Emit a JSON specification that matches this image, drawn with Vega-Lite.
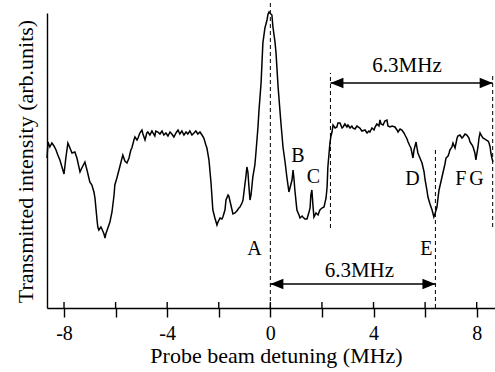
{
  "$schema": "https://vega.github.io/schema/vega-lite/v6.json",
  "width": 448,
  "height": 295,
  "autosize": {"type": "none"},
  "padding": {"left": 47, "top": 13, "right": 0, "bottom": 64},
  "background": "white",
  "config": {"view": {"stroke": null}, "font": "Liberation Serif"},
  "datasets": {
    "spectrum": [
      {"mhz": -8.66, "intensity": 150}, {"mhz": -8.62, "intensity": 166}, {"mhz": -8.55, "intensity": 161}, {"mhz": -8.47, "intensity": 165},
      {"mhz": -8.39, "intensity": 162}, {"mhz": -8.31, "intensity": 158}, {"mhz": -8.24, "intensity": 153}, {"mhz": -8.16, "intensity": 148},
      {"mhz": -8.08, "intensity": 141}, {"mhz": -8.00, "intensity": 134}, {"mhz": -7.93, "intensity": 150}, {"mhz": -7.85, "intensity": 165},
      {"mhz": -7.77, "intensity": 160}, {"mhz": -7.69, "intensity": 155}, {"mhz": -7.58, "intensity": 156}, {"mhz": -7.50, "intensity": 150},
      {"mhz": -7.38, "intensity": 136}, {"mhz": -7.31, "intensity": 140}, {"mhz": -7.19, "intensity": 146}, {"mhz": -7.11, "intensity": 138},
      {"mhz": -7.00, "intensity": 126}, {"mhz": -6.92, "intensity": 123}, {"mhz": -6.84, "intensity": 116}, {"mhz": -6.80, "intensity": 110},
      {"mhz": -6.72, "intensity": 88}, {"mhz": -6.69, "intensity": 81}, {"mhz": -6.65, "intensity": 78}, {"mhz": -6.57, "intensity": 81},
      {"mhz": -6.53, "intensity": 79}, {"mhz": -6.45, "intensity": 74}, {"mhz": -6.41, "intensity": 70}, {"mhz": -6.38, "intensity": 74},
      {"mhz": -6.30, "intensity": 80}, {"mhz": -6.22, "intensity": 86}, {"mhz": -6.14, "intensity": 96}, {"mhz": -6.06, "intensity": 113},
      {"mhz": -6.03, "intensity": 123}, {"mhz": -5.95, "intensity": 130}, {"mhz": -5.87, "intensity": 138}, {"mhz": -5.79, "intensity": 146},
      {"mhz": -5.72, "intensity": 153}, {"mhz": -5.64, "intensity": 147}, {"mhz": -5.56, "intensity": 145}, {"mhz": -5.48, "intensity": 150},
      {"mhz": -5.41, "intensity": 158}, {"mhz": -5.37, "intensity": 160}, {"mhz": -5.29, "intensity": 168}, {"mhz": -5.25, "intensity": 171},
      {"mhz": -5.17, "intensity": 168}, {"mhz": -5.13, "intensity": 170}, {"mhz": -5.06, "intensity": 175}, {"mhz": -4.98, "intensity": 178},
      {"mhz": -4.94, "intensity": 174}, {"mhz": -4.86, "intensity": 168}, {"mhz": -4.79, "intensity": 175}, {"mhz": -4.75, "intensity": 176},
      {"mhz": -4.67, "intensity": 173}, {"mhz": -4.59, "intensity": 177}, {"mhz": -4.55, "intensity": 175}, {"mhz": -4.48, "intensity": 172},
      {"mhz": -4.44, "intensity": 177}, {"mhz": -4.36, "intensity": 176}, {"mhz": -4.28, "intensity": 174}, {"mhz": -4.20, "intensity": 177},
      {"mhz": -4.13, "intensity": 173}, {"mhz": -4.05, "intensity": 175}, {"mhz": -3.97, "intensity": 172}, {"mhz": -3.89, "intensity": 176},
      {"mhz": -3.82, "intensity": 174}, {"mhz": -3.74, "intensity": 171}, {"mhz": -3.66, "intensity": 175}, {"mhz": -3.58, "intensity": 178},
      {"mhz": -3.51, "intensity": 174}, {"mhz": -3.43, "intensity": 177}, {"mhz": -3.35, "intensity": 173}, {"mhz": -3.27, "intensity": 176},
      {"mhz": -3.20, "intensity": 174}, {"mhz": -3.12, "intensity": 177}, {"mhz": -3.04, "intensity": 173}, {"mhz": -2.96, "intensity": 175},
      {"mhz": -2.89, "intensity": 177}, {"mhz": -2.81, "intensity": 174}, {"mhz": -2.73, "intensity": 176}, {"mhz": -2.65, "intensity": 173},
      {"mhz": -2.58, "intensity": 170}, {"mhz": -2.50, "intensity": 163}, {"mhz": -2.46, "intensity": 160}, {"mhz": -2.38, "intensity": 148},
      {"mhz": -2.30, "intensity": 125}, {"mhz": -2.23, "intensity": 98}, {"mhz": -2.15, "intensity": 90}, {"mhz": -2.07, "intensity": 83},
      {"mhz": -2.03, "intensity": 86}, {"mhz": -1.95, "intensity": 90}, {"mhz": -1.88, "intensity": 89}, {"mhz": -1.84, "intensity": 91},
      {"mhz": -1.76, "intensity": 98}, {"mhz": -1.72, "intensity": 108}, {"mhz": -1.64, "intensity": 113}, {"mhz": -1.61, "intensity": 112},
      {"mhz": -1.53, "intensity": 103}, {"mhz": -1.45, "intensity": 94}, {"mhz": -1.37, "intensity": 95}, {"mhz": -1.30, "intensity": 97},
      {"mhz": -1.22, "intensity": 100}, {"mhz": -1.18, "intensity": 101}, {"mhz": -1.10, "intensity": 105}, {"mhz": -1.06, "intensity": 108},
      {"mhz": -0.99, "intensity": 123}, {"mhz": -0.95, "intensity": 131}, {"mhz": -0.91, "intensity": 141}, {"mhz": -0.87, "intensity": 136},
      {"mhz": -0.83, "intensity": 121}, {"mhz": -0.79, "intensity": 108}, {"mhz": -0.75, "intensity": 113}, {"mhz": -0.71, "intensity": 123},
      {"mhz": -0.68, "intensity": 131}, {"mhz": -0.60, "intensity": 143}, {"mhz": -0.56, "intensity": 155}, {"mhz": -0.48, "intensity": 181},
      {"mhz": -0.44, "intensity": 198}, {"mhz": -0.36, "intensity": 225}, {"mhz": -0.29, "intensity": 265}, {"mhz": -0.21, "intensity": 280},
      {"mhz": -0.17, "intensity": 284}, {"mhz": -0.13, "intensity": 288}, {"mhz": -0.09, "intensity": 294}, {"mhz": -0.05, "intensity": 296},
      {"mhz": -0.02, "intensity": 295}, {"mhz": 0.06, "intensity": 293}, {"mhz": 0.10, "intensity": 281}, {"mhz": 0.18, "intensity": 266},
      {"mhz": 0.22, "intensity": 255}, {"mhz": 0.30, "intensity": 221}, {"mhz": 0.41, "intensity": 185}, {"mhz": 0.49, "intensity": 161},
      {"mhz": 0.57, "intensity": 146}, {"mhz": 0.64, "intensity": 131}, {"mhz": 0.72, "intensity": 116}, {"mhz": 0.76, "intensity": 120},
      {"mhz": 0.84, "intensity": 128}, {"mhz": 0.88, "intensity": 138}, {"mhz": 0.92, "intensity": 128}, {"mhz": 0.95, "intensity": 118},
      {"mhz": 1.03, "intensity": 98}, {"mhz": 1.11, "intensity": 93}, {"mhz": 1.15, "intensity": 90}, {"mhz": 1.23, "intensity": 92},
      {"mhz": 1.26, "intensity": 91}, {"mhz": 1.34, "intensity": 89}, {"mhz": 1.42, "intensity": 89}, {"mhz": 1.50, "intensity": 96},
      {"mhz": 1.54, "intensity": 100}, {"mhz": 1.57, "intensity": 113}, {"mhz": 1.61, "intensity": 118}, {"mhz": 1.65, "intensity": 103},
      {"mhz": 1.69, "intensity": 91}, {"mhz": 1.77, "intensity": 95}, {"mhz": 1.85, "intensity": 93}, {"mhz": 1.92, "intensity": 98},
      {"mhz": 2.00, "intensity": 100}, {"mhz": 2.08, "intensity": 101}, {"mhz": 2.16, "intensity": 110}, {"mhz": 2.20, "intensity": 121},
      {"mhz": 2.23, "intensity": 141}, {"mhz": 2.27, "intensity": 153}, {"mhz": 2.31, "intensity": 165}, {"mhz": 2.35, "intensity": 172},
      {"mhz": 2.39, "intensity": 176}, {"mhz": 2.43, "intensity": 183}, {"mhz": 2.51, "intensity": 180}, {"mhz": 2.58, "intensity": 181},
      {"mhz": 2.62, "intensity": 185}, {"mhz": 2.70, "intensity": 185}, {"mhz": 2.78, "intensity": 180}, {"mhz": 2.82, "intensity": 181},
      {"mhz": 2.89, "intensity": 184}, {"mhz": 2.97, "intensity": 181}, {"mhz": 3.01, "intensity": 183}, {"mhz": 3.09, "intensity": 180},
      {"mhz": 3.16, "intensity": 182}, {"mhz": 3.20, "intensity": 180}, {"mhz": 3.28, "intensity": 179}, {"mhz": 3.36, "intensity": 182},
      {"mhz": 3.40, "intensity": 181}, {"mhz": 3.47, "intensity": 180}, {"mhz": 3.55, "intensity": 177}, {"mhz": 3.67, "intensity": 178},
      {"mhz": 3.75, "intensity": 175}, {"mhz": 3.82, "intensity": 177}, {"mhz": 3.86, "intensity": 176}, {"mhz": 3.94, "intensity": 180},
      {"mhz": 4.02, "intensity": 178}, {"mhz": 4.06, "intensity": 181}, {"mhz": 4.13, "intensity": 184}, {"mhz": 4.21, "intensity": 182},
      {"mhz": 4.25, "intensity": 188}, {"mhz": 4.29, "intensity": 184}, {"mhz": 4.37, "intensity": 183}, {"mhz": 4.44, "intensity": 187},
      {"mhz": 4.52, "intensity": 188}, {"mhz": 4.56, "intensity": 182}, {"mhz": 4.64, "intensity": 181}, {"mhz": 4.72, "intensity": 182},
      {"mhz": 4.83, "intensity": 181}, {"mhz": 4.91, "intensity": 178}, {"mhz": 4.95, "intensity": 176}, {"mhz": 5.03, "intensity": 179},
      {"mhz": 5.10, "intensity": 178}, {"mhz": 5.18, "intensity": 175}, {"mhz": 5.22, "intensity": 173}, {"mhz": 5.30, "intensity": 169},
      {"mhz": 5.34, "intensity": 166}, {"mhz": 5.41, "intensity": 162}, {"mhz": 5.45, "intensity": 160}, {"mhz": 5.49, "intensity": 155},
      {"mhz": 5.53, "intensity": 150}, {"mhz": 5.57, "intensity": 158}, {"mhz": 5.65, "intensity": 166}, {"mhz": 5.68, "intensity": 161},
      {"mhz": 5.72, "intensity": 155}, {"mhz": 5.80, "intensity": 150}, {"mhz": 5.88, "intensity": 145}, {"mhz": 5.96, "intensity": 136},
      {"mhz": 6.00, "intensity": 128}, {"mhz": 6.07, "intensity": 118}, {"mhz": 6.11, "intensity": 111}, {"mhz": 6.19, "intensity": 104},
      {"mhz": 6.27, "intensity": 98}, {"mhz": 6.31, "intensity": 94}, {"mhz": 6.34, "intensity": 91}, {"mhz": 6.38, "intensity": 94},
      {"mhz": 6.46, "intensity": 101}, {"mhz": 6.50, "intensity": 110}, {"mhz": 6.54, "intensity": 118}, {"mhz": 6.62, "intensity": 127},
      {"mhz": 6.69, "intensity": 135}, {"mhz": 6.77, "intensity": 144}, {"mhz": 6.81, "intensity": 150}, {"mhz": 6.89, "intensity": 152},
      {"mhz": 6.93, "intensity": 155}, {"mhz": 6.96, "intensity": 158}, {"mhz": 7.04, "intensity": 161}, {"mhz": 7.08, "intensity": 165},
      {"mhz": 7.16, "intensity": 160}, {"mhz": 7.20, "intensity": 165}, {"mhz": 7.24, "intensity": 170}, {"mhz": 7.27, "intensity": 172},
      {"mhz": 7.35, "intensity": 173}, {"mhz": 7.43, "intensity": 170}, {"mhz": 7.47, "intensity": 171}, {"mhz": 7.55, "intensity": 174},
      {"mhz": 7.62, "intensity": 173}, {"mhz": 7.70, "intensity": 170}, {"mhz": 7.74, "intensity": 166}, {"mhz": 7.82, "intensity": 163},
      {"mhz": 7.86, "intensity": 161}, {"mhz": 7.93, "intensity": 155}, {"mhz": 7.97, "intensity": 148}, {"mhz": 8.01, "intensity": 155},
      {"mhz": 8.05, "intensity": 161}, {"mhz": 8.09, "intensity": 170}, {"mhz": 8.13, "intensity": 175}, {"mhz": 8.17, "intensity": 173},
      {"mhz": 8.24, "intensity": 170}, {"mhz": 8.32, "intensity": 169}, {"mhz": 8.36, "intensity": 168}, {"mhz": 8.44, "intensity": 167},
      {"mhz": 8.48, "intensity": 165}, {"mhz": 8.52, "intensity": 161}, {"mhz": 8.55, "intensity": 155}, {"mhz": 8.59, "intensity": 150},
      {"mhz": 8.63, "intensity": 146}
    ],
    "ticks": [
      {"mhz": -8, "lo": 0, "hi": 6}, {"mhz": -6, "lo": 0, "hi": 6}, {"mhz": -4, "lo": 0, "hi": 6},
      {"mhz": -2, "lo": 0, "hi": 6}, {"mhz": 0, "lo": 0, "hi": 6}, {"mhz": 2, "lo": 0, "hi": 6},
      {"mhz": 4, "lo": 0, "hi": 6}, {"mhz": 6, "lo": 0, "hi": 6}, {"mhz": 8, "lo": 0, "hi": 6}
    ],
    "dashes": [
      {"mhz": 0, "lo": 0, "hi": 305},
      {"mhz": 2.33, "lo": 80, "hi": 235},
      {"mhz": 8.62, "lo": 81, "hi": 235},
      {"mhz": 6.4, "lo": 0, "hi": 158}
    ],
    "arrows": [
      {"from": 2.33, "to": 8.62, "level": 225},
      {"from": 0, "to": 6.4, "level": 24}
    ],
    "heads": [
      {"mhz": 2.33, "level": 225, "dir": "L"},
      {"mhz": 8.62, "level": 225, "dir": "R"},
      {"mhz": 0, "level": 24, "dir": "L"},
      {"mhz": 6.4, "level": 24, "dir": "R"}
    ],
    "spans": [
      {"mhz": 5.30, "level": 236, "label": "6.3MHz"},
      {"mhz": 3.45, "level": 31, "label": "6.3MHz"}
    ],
    "letters": [
      {"mhz": -0.62, "level": 53, "label": "A"},
      {"mhz": 1.07, "level": 146, "label": "B"},
      {"mhz": 1.67, "level": 125, "label": "C"},
      {"mhz": 5.51, "level": 123, "label": "D"},
      {"mhz": 6.05, "level": 53, "label": "E"},
      {"mhz": 7.38, "level": 123, "label": "F"},
      {"mhz": 7.99, "level": 123, "label": "G"}
    ]
  },
  "layer": [
    {
      "data": {"name": "spectrum"},
      "mark": {"type": "line", "color": "black", "strokeWidth": 1.5, "clip": false},
      "encoding": {
        "x": {
          "field": "mhz", "type": "quantitative",
          "scale": {"domain": [-8.66, 8.71], "nice": false, "zero": false},
          "axis": {
            "values": [-8, -6, -4, -2, 0, 2, 4, 6, 8],
            "labelExpr": "datum.value % 4 === 0 ? toString(datum.value) : ''",
            "grid": false,
            "tickSize": 9, "tickColor": "black", "tickWidth": 1.4,
            "domainColor": "black", "domainWidth": 1.4,
            "labelFont": "Liberation Serif", "labelFontSize": 20, "labelColor": "black", "labelPadding": 6,
            "title": "Probe beam detuning (MHz)",
            "titleFont": "Liberation Serif", "titleFontSize": 22, "titleFontWeight": "normal", "titleColor": "black",
            "titleBaseline": "alphabetic", "titleY": 54, "titleX": 229
          }
        },
        "y": {
          "field": "intensity", "type": "quantitative",
          "scale": {"domain": [0, 295], "nice": false, "zero": false},
          "axis": {
            "ticks": false, "labels": false, "grid": false,
            "domainColor": "black", "domainWidth": 1.4,
            "title": "Transmitted intensity (arb.units)",
            "titleFont": "Liberation Serif", "titleFontSize": 22, "titleFontWeight": "normal", "titleColor": "black",
            "titleAngle": -90, "titleBaseline": "alphabetic", "titleX": -14.5, "titleY": 148, "titleAlign": "center"
          }
        }
      }
    },
    {
      "data": {"name": "ticks"},
      "mark": {"type": "rule", "color": "black", "strokeWidth": 1.4},
      "encoding": {
        "x": {"field": "mhz", "type": "quantitative"},
        "y": {"field": "lo", "type": "quantitative"},
        "y2": {"field": "hi"}
      }
    },
    {
      "data": {"name": "dashes"},
      "mark": {"type": "rule", "color": "black", "strokeWidth": 1, "strokeDash": [4, 3], "clip": false},
      "encoding": {
        "x": {"field": "mhz", "type": "quantitative"},
        "y": {"field": "lo", "type": "quantitative"},
        "y2": {"field": "hi"}
      }
    },
    {
      "data": {"name": "arrows"},
      "mark": {"type": "rule", "color": "black", "strokeWidth": 1.5},
      "encoding": {
        "x": {"field": "from", "type": "quantitative"},
        "x2": {"field": "to"},
        "y": {"field": "level", "type": "quantitative"}
      }
    },
    {
      "data": {"name": "heads"},
      "mark": {"type": "point", "filled": true, "color": "black", "opacity": 1, "size": 169},
      "encoding": {
        "x": {"field": "mhz", "type": "quantitative"},
        "y": {"field": "level", "type": "quantitative"},
        "shape": {
          "field": "dir", "type": "nominal", "legend": null,
          "scale": {"domain": ["L", "R"], "range": ["M 0 0 L 2 -0.8 L 2 0.8 Z", "M 0 0 L -2 -0.8 L -2 0.8 Z"]}
        }
      }
    },
    {
      "data": {"name": "spans"},
      "mark": {"type": "text", "font": "Liberation Serif", "fontSize": 21, "color": "black", "align": "center", "baseline": "alphabetic"},
      "encoding": {
        "x": {"field": "mhz", "type": "quantitative"},
        "y": {"field": "level", "type": "quantitative"},
        "text": {"field": "label"}
      }
    },
    {
      "data": {"name": "letters"},
      "mark": {"type": "text", "font": "Liberation Serif", "fontSize": 20, "color": "black", "align": "center", "baseline": "alphabetic"},
      "encoding": {
        "x": {"field": "mhz", "type": "quantitative"},
        "y": {"field": "level", "type": "quantitative"},
        "text": {"field": "label"}
      }
    }
  ]
}
